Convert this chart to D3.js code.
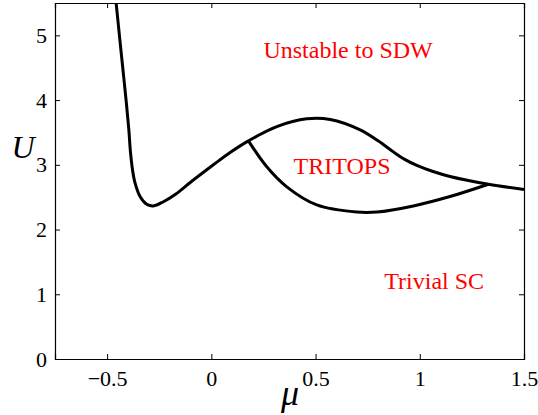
<!DOCTYPE html>
<html>
<head>
<meta charset="utf-8">
<script src="https://cdn.jsdelivr.net/npm/d3@7"></script>
<style>
  body { margin: 0; background: #fff; }
</style>
</head>
<body>
<div id="chart"></div>
<script>
// phase boundary, outer line (mu, U)
const outerMu = [-0.463, -0.441, -0.425, -0.409, -0.396, -0.388, -0.378, -0.366, -0.342, -0.31, -0.278, -0.23,
                 -0.17, -0.10, 0.01, 0.09, 0.178,
                 0.314, 0.458, 0.570, 0.714, 0.80, 0.873, 0.93, 0.986, 1.06, 1.145, 1.329, 1.5];
const outerU  = [5.7, 5.0, 4.5, 4.0, 3.55, 3.2, 2.92, 2.72, 2.51, 2.39, 2.365, 2.43,
                 2.55, 2.73, 3.0, 3.19, 3.37,
                 3.59, 3.71, 3.70, 3.54, 3.37, 3.20, 3.08, 2.99, 2.90, 2.82, 2.70, 2.62];
// lower edge of the TRITOPS pocket
const innerMu = [0.178, 0.266, 0.362, 0.506, 0.698, 0.794, 0.969, 1.145, 1.329];
const innerU  = [3.37, 2.97, 2.66, 2.38, 2.27, 2.27, 2.365, 2.51, 2.70];

const xTicks = [-0.5, 0, 0.5, 1, 1.5];
const yTicks = [0, 1, 2, 3, 4, 5];
const phaseLabels = ["Unstable to SDW", "TRITOPS", "Trivial SC"];
const labelMu = [0.656, 0.627, 1.069];
const labelU = [4.74, 2.94, 1.17];

const width = 538, height = 415;
const margin = {left: 55, right: 14, top: 3, bottom: 56};
const serif = '"Liberation Serif", "Times New Roman", serif';

const x = d3.scaleLinear().domain([-0.75, 1.5]).range([margin.left, width - margin.right]);
const y = d3.scaleLinear().domain([0, 5.5]).range([height - margin.bottom, margin.top]);

const svg = d3.select("#chart").append("svg")
    .attr("width", width)
    .attr("height", height);

svg.append("clipPath").attr("id", "clip")
  .append("rect")
    .attr("x", margin.left).attr("y", margin.top)
    .attr("width", width - margin.left - margin.right)
    .attr("height", height - margin.top - margin.bottom);

// axes, ticks pointing inward on all four sides
const tickLen = 5;
const fmt = d => d < 0 ? "\u2212" + Math.abs(d) : String(d);
const axBottom = svg.append("g")
    .attr("transform", `translate(0,${y(0)})`)
    .call(d3.axisBottom(x).tickValues(xTicks).tickSize(-tickLen).tickPadding(11).tickFormat(fmt));
const axTop = svg.append("g")
    .attr("transform", `translate(0,${y(5.5)})`)
    .call(d3.axisTop(x).tickValues(xTicks).tickSize(-tickLen).tickFormat(""));
const axLeft = svg.append("g")
    .attr("transform", `translate(${x(-0.75)},0)`)
    .call(d3.axisLeft(y).tickValues(yTicks).tickSize(-tickLen).tickPadding(8).tickFormat(fmt));
const axRight = svg.append("g")
    .attr("transform", `translate(${x(1.5)},0)`)
    .call(d3.axisRight(y).tickValues(yTicks).tickSize(-tickLen).tickFormat(""));

[axBottom, axTop, axLeft, axRight].forEach(g => {
  g.attr("font-family", serif);
  g.select(".domain").attr("stroke", "#000").attr("stroke-width", 1.2);
  g.selectAll(".tick line").attr("stroke", "#000").attr("stroke-width", 1);
  g.selectAll(".tick text")
    .style("font-family", serif)
    .style("font-size", "22px")
    .attr("fill", "#000");
});
// the 1.5 end ticks sit on the frame
axBottom.selectAll(".tick").filter(d => d === 1.5).select("line").remove();
axTop.selectAll(".tick").filter(d => d === 1.5).select("line").remove();

// curves
const line = d3.line()
    .x(d => x(d[0]))
    .y(d => y(d[1]))
    .curve(d3.curveCatmullRom.alpha(0.5));

const plot = svg.append("g").attr("clip-path", "url(#clip)");
plot.append("path")
    .datum(outerMu.map((m, i) => [m, outerU[i]]))
    .attr("d", line)
    .attr("fill", "none")
    .attr("stroke", "#000")
    .attr("stroke-width", 3);
plot.append("path")
    .datum(innerMu.map((m, i) => [m, innerU[i]]))
    .attr("d", line)
    .attr("fill", "none")
    .attr("stroke", "#000")
    .attr("stroke-width", 3);

// phase labels
svg.selectAll(".phase")
  .data(phaseLabels)
  .enter().append("text")
    .attr("class", "phase")
    .attr("x", (d, i) => x(labelMu[i]))
    .attr("y", (d, i) => y(labelU[i]))
    .attr("text-anchor", "middle")
    .attr("dominant-baseline", "middle")
    .style("font-family", serif)
    .style("font-size", "24px")
    .attr("fill", "#ff0000")
    .text(d => d);

// axis titles
svg.append("text")
    .attr("x", 290).attr("y", 405)
    .attr("text-anchor", "middle")
    .style("font-family", serif)
    .style("font-style", "italic")
    .style("font-size", "36px")
    .text("\u03bc");
svg.append("text")
    .attr("x", 23).attr("y", 158)
    .attr("text-anchor", "middle")
    .style("font-family", serif)
    .style("font-style", "italic")
    .style("font-size", "32px")
    .text("U");
</script>
</body>
</html>
